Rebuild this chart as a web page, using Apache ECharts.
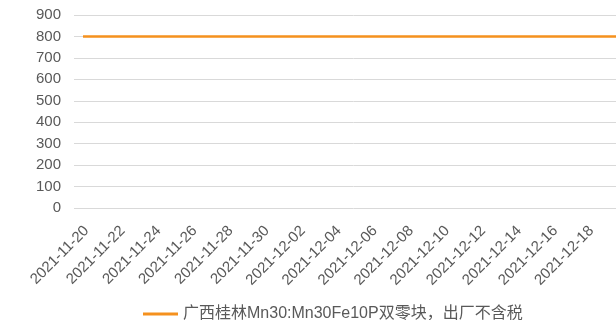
<!DOCTYPE html>
<html>
<head>
<meta charset="utf-8">
<script src="https://cdn.jsdelivr.net/npm/echarts@6/dist/echarts.min.js"></script>
<style>
  html, body { margin: 0; padding: 0; background: #fff; overflow: hidden; }
  /* the original chart is cropped on the right, so the canvas runs past the window */
  #container { width: 633px; height: 320px; }
</style>
</head>
<body>
<div id="container"></div>
<script>
  // categories: every day from 2021-11-20, the last one runs off the right edge
  let dates = [
    '2021-11-20', '2021-11-21', '2021-11-22', '2021-11-23', '2021-11-24', '2021-11-25',
    '2021-11-26', '2021-11-27', '2021-11-28', '2021-11-29', '2021-11-30', '2021-12-01',
    '2021-12-02', '2021-12-03', '2021-12-04', '2021-12-05', '2021-12-06', '2021-12-07',
    '2021-12-08', '2021-12-09', '2021-12-10', '2021-12-11', '2021-12-12', '2021-12-13',
    '2021-12-14', '2021-12-15', '2021-12-16', '2021-12-17', '2021-12-18', '2021-12-19',
    '2021-12-20'
  ];
  let prices = [
    800, 800, 800, 800, 800, 800, 800, 800, 800, 800,
    800, 800, 800, 800, 800, 800, 800, 800, 800, 800,
    800, 800, 800, 800, 800, 800, 800, 800, 800, 800,
    800
  ];
  let lastLabel = '2021-12-18';
  let seriesName = '广西桂林Mn30:Mn30Fe10P双零块，出厂不含税';

  let dom = document.getElementById('container');
  let myChart = echarts.init(dom);
  let font = '"Liberation Sans", "Noto Sans CJK SC", Arial, sans-serif';
  let lastIdx = dates.indexOf(lastLabel);

  let option = {
    animation: false,
    textStyle: {fontFamily: font},
    grid: {
      left: 74,
      right: 0,
      top: 15,
      bottom: 112
    },
    legend: {
      left: 138,
      top: 301,
      itemWidth: 35,
      itemHeight: 3,
      itemGap: 10,
      icon: 'rect',
      textStyle: {
        color: '#595959',
        fontSize: 16,
        fontFamily: font
      },
      data: [seriesName]
    },
    xAxis: {
      type: 'category',
      data: dates,
      boundaryGap: true,
      axisTick: {show: false},
      axisLine: {show: false},
      axisLabel: {
        interval: function (index) {
          return index % 2 === 0 && index <= lastIdx;
        },
        rotate: 45,
        color: '#595959',
        fontSize: 15,
        margin: 24,
        padding: [0, -5, 0, 0]
      }
    },
    yAxis: {
      type: 'value',
      min: 0,
      max: 900,
      interval: 100,
      axisTick: {show: false},
      axisLine: {show: false},
      splitLine: {lineStyle: {color: '#d9d9d9', width: 1}},
      axisLabel: {
        color: '#595959',
        fontSize: 15,
        margin: 13
      }
    },
    series: [{
      name: seriesName,
      type: 'line',
      data: prices,
      symbol: 'none',
      color: '#F5911E',
      lineStyle: {width: 2.5}
    }]
  };

  myChart.setOption(option, true);
</script>
</body>
</html>
